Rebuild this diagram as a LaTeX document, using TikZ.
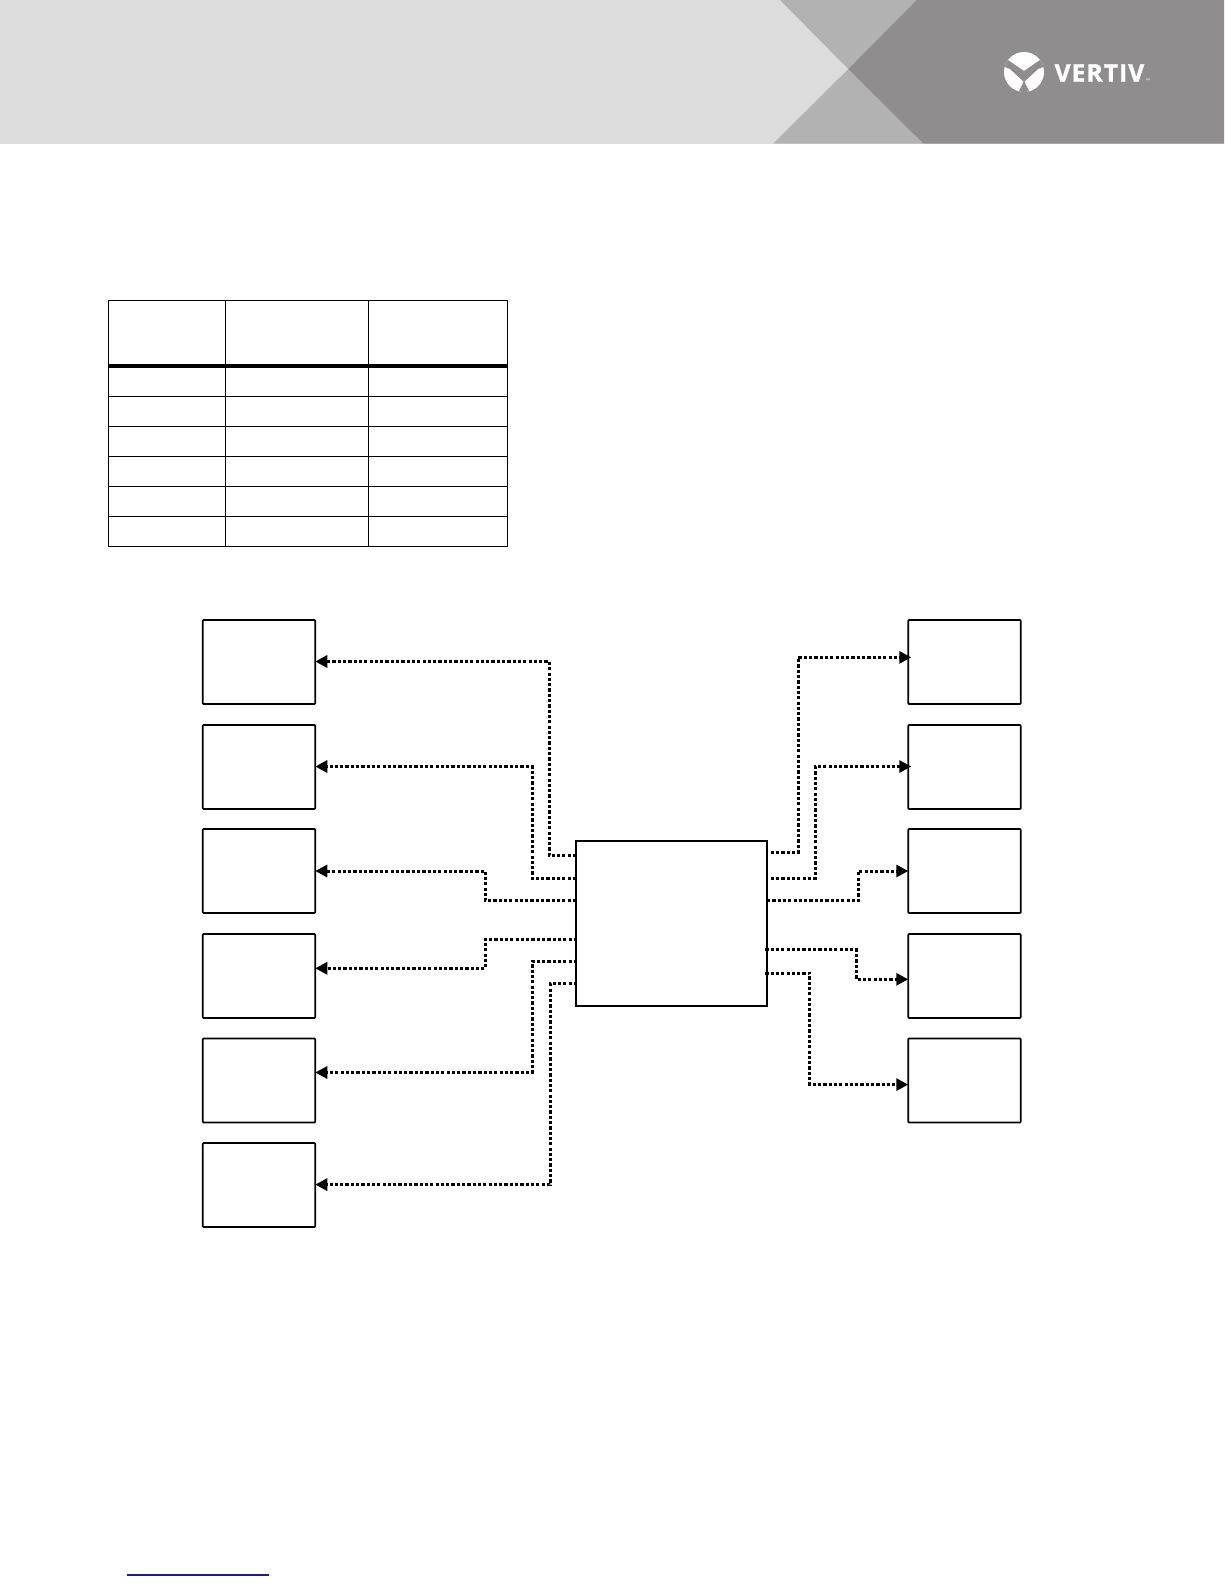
\documentclass[tikz,border=0pt]{standalone}
\usepackage{fontspec}
\setmainfont{Open Sans}
\usetikzlibrary{arrows.meta}
\tikzset{
  x=1pt,y=-1pt,
  sidebox/.style={draw=black,line width=1.7pt,rounded corners=0.8pt,minimum width=112.5pt,minimum height=84pt,inner sep=0pt,outer sep=0pt},
  hubbox/.style={draw=black,line width=1.7pt,minimum width=190.7pt,minimum height=165pt,inner sep=0pt,outer sep=0pt},
  conn/.style={draw=black,line width=3pt,dash pattern=on 3.2pt off 2.1pt,-{Triangle[length=12pt,width=12pt]}},
  tabline/.style={draw=black,line width=1.3pt},
  tabthick/.style={draw=black,line width=4pt},
}
\definecolor{hdrlight}{HTML}{DCDCDC}
\definecolor{hdrmid}{HTML}{B2B2B2}
\definecolor{hdrdark}{HTML}{8F8D8E}
\definecolor{linkblue}{HTML}{1A1A9A}
\begin{document}
\begin{tikzpicture}
\useasboundingbox (0,0) rectangle (1224,1584);
% header
\fill[hdrlight] (0,0) rectangle (1224,143.5);
\fill[hdrmid] (780,0) -- (848.3,69) -- (916.7,0) -- cycle;
\fill[hdrmid] (773.3,143.5) -- (848.3,69) -- (923.3,143.5) -- cycle;
\fill[hdrdark] (916.7,0) -- (1224,0) -- (1224,143.5) -- (923.3,143.5) -- (848.3,69) -- cycle;
% logo
\begin{scope}
\clip (1024,72) circle (20);
\fill[white] (1004,52) rectangle (1044,92);
\fill[hdrdark] (1002,61) -- (1008,60) -- (1024,71) -- (1040,60) -- (1046,61) -- (1046,66) -- (1038,69) -- (1024,82) -- (1010,69) -- (1002,66) -- cycle;
\fill[hdrdark] (1024,81) -- (1018,93) -- (1030,93) -- cycle;
\end{scope}
\node[anchor=west,text=white,font=\fontsize{24.5}{24.5}\selectfont\bfseries,inner sep=0pt] (logotext) at (1054.5,73) {\addfontfeature{LetterSpace=4.5,FakeBold=1.5}VERTIV};
\node[anchor=west,text=white,font=\fontsize{5}{5}\selectfont,inner sep=0pt] (logotm) at (1146,80.5) {™};
% table
\draw[tabline] (108.3,300.7) rectangle (507.3,546.3);
\draw[tabline] (225.3,300.7) -- (225.3,546.3);
\draw[tabline] (368.3,300.7) -- (368.3,546.3);
\draw[tabline] (108.3,396.3) -- (507.3,396.3);
\draw[tabline] (108.3,426.3) -- (507.3,426.3);
\draw[tabline] (108.3,456.3) -- (507.3,456.3);
\draw[tabline] (108.3,486.3) -- (507.3,486.3);
\draw[tabline] (108.3,516.3) -- (507.3,516.3);
\draw[tabthick] (108.3,366.3) -- (507.3,366.3);
% boxes
\node[sidebox] (L1) at (259,662) {};
\node[sidebox] (L2) at (259,767) {};
\node[sidebox] (L3) at (259,871) {};
\node[sidebox] (L4) at (259,976) {};
\node[sidebox] (L5) at (259,1080.5) {};
\node[sidebox] (L6) at (259,1185) {};
\node[sidebox] (R1) at (964.5,662) {};
\node[sidebox] (R2) at (964.5,767) {};
\node[sidebox] (R3) at (964.5,871) {};
\node[sidebox] (R4) at (964.5,976) {};
\node[sidebox] (R5) at (964.5,1080.5) {};
\node[hubbox] (H) at (671.3,923.2) {};
% free ends on the hub
\coordinate (a1) at (576,855.7);
\coordinate (a2) at (576,878.3);
\coordinate (a3) at (576,900.7);
\coordinate (a4) at (577,939);
\coordinate (a5) at (577,961.3);
\coordinate (a6) at (577,983.7);
\coordinate (b1) at (770.7,852.3);
\coordinate (b2) at (770.7,878.3);
\coordinate (b3) at (767,900.7);
\coordinate (b4) at (765.3,949.7);
\coordinate (b5) at (765.3,973);
% connectors
\draw[conn] (a1) -| (549.3,661.5) -- (L1.east |- 0,661.5);
\draw[conn] (a2) -| (532,766.5) -- (L2.east |- 0,766.5);
\draw[conn] (a3) -| (485.3,871) -- (L3.east);
\draw[conn] (a4) -| (485.5,968.3) -- (L4.east |- 0,968.3);
\draw[conn] (a5) -| (532.3,1072.5) -- (L5.east |- 0,1072.5);
\draw[conn] (a6) -| (550,1184.6) -- (L6.east |- 0,1184.6);
\draw[conn] (b1) -| (798,657.4) -- ([xshift=3pt]R1.west |- 0,657.4);
\draw[conn] (b2) -| (815.3,766.5) -- ([xshift=3pt]R2.west |- 0,766.5);
\draw[conn] (b3) -| (858.3,871) -- (R3.west);
\draw[conn] (b4) -| (856.3,979.3) -- (R4.west |- 0,979.3);
\draw[conn] (b5) -| (809.7,1084.6) -- (R5.west |- 0,1084.6);
% footer link underline
\draw[linkblue,line width=1.3pt] (127,1575) -- (269,1575);
\end{tikzpicture}
\end{document}
